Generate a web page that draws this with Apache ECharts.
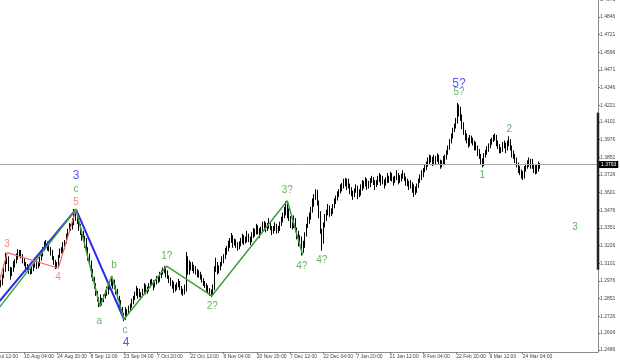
<!DOCTYPE html>
<html><head><meta charset="utf-8">
<script src="https://cdn.jsdelivr.net/npm/echarts@6/dist/echarts.min.js"></script>
<style>html,body{margin:0;padding:0;background:#fff}#c{width:620px;height:361px}</style>
</head><body><div id="c"></div>
<script>
// Half-day bars [open, close, low, high]; trading-day index of the first bar (day 0 = 10 Aug)
const firstDay = -8;
const halfDayBars = [
[1.2920,1.2940,1.2905,1.2950],[1.2940,1.2955,1.2930,1.2985],[1.2955,1.3010,1.2945,1.3020],[1.3010,1.3050,1.2995,1.3070],
[1.3050,1.3140,1.3040,1.3175],[1.3140,1.3120,1.3095,1.3160],[1.3120,1.3060,1.3045,1.3150],[1.3060,1.3030,1.2985,1.3075],
[1.3030,1.3050,1.3010,1.3070],[1.3050,1.3090,1.3040,1.3115],[1.3090,1.3110,1.3070,1.3130],[1.3110,1.3140,1.3100,1.3170],
[1.3140,1.3170,1.3125,1.3200],[1.3170,1.3180,1.3150,1.3195],[1.3180,1.3150,1.3135,1.3195],[1.3150,1.3120,1.3100,1.3165],
[1.3120,1.3095,1.3080,1.3135],[1.3095,1.3070,1.3040,1.3110],[1.3070,1.3080,1.3050,1.3095],[1.3080,1.3040,1.3025,1.3085],
[1.3040,1.3030,1.3020,1.3060],[1.3030,1.3055,1.3025,1.3080],[1.3055,1.3080,1.3045,1.3095],[1.3080,1.3100,1.3070,1.3120],
[1.3100,1.3075,1.3060,1.3130],[1.3075,1.3090,1.3065,1.3110],[1.3090,1.3130,1.3080,1.3145],[1.3130,1.3160,1.3120,1.3190],
[1.3160,1.3200,1.3150,1.3215],[1.3200,1.3240,1.3190,1.3255],[1.3240,1.3250,1.3220,1.3265],[1.3250,1.3225,1.3190,1.3255],
[1.3225,1.3200,1.3185,1.3240],[1.3200,1.3180,1.3155,1.3215],[1.3180,1.3140,1.3125,1.3195],[1.3140,1.3110,1.3090,1.3150],
[1.3110,1.3075,1.3060,1.3125],[1.3075,1.3090,1.3065,1.3110],[1.3090,1.3150,1.3075,1.3160],[1.3150,1.3190,1.3140,1.3205],
[1.3190,1.3180,1.3170,1.3215],[1.3180,1.3220,1.3175,1.3250],[1.3220,1.3250,1.3200,1.3265],[1.3250,1.3290,1.3240,1.3310],
[1.3290,1.3330,1.3280,1.3345],[1.3330,1.3360,1.3320,1.3385],[1.3360,1.3345,1.3330,1.3380],[1.3345,1.3380,1.3340,1.3420],
[1.3380,1.3460,1.3370,1.3485],[1.3460,1.3420,1.3400,1.3475],[1.3420,1.3400,1.3380,1.3445],[1.3400,1.3360,1.3330,1.3415],
[1.3360,1.3320,1.3300,1.3380],[1.3320,1.3300,1.3260,1.3345],[1.3300,1.3280,1.3260,1.3330],[1.3280,1.3250,1.3210,1.3295],
[1.3250,1.3200,1.3180,1.3280],[1.3200,1.3150,1.3120,1.3215],[1.3150,1.3110,1.3090,1.3170],[1.3110,1.3050,1.3000,1.3120],
[1.3050,1.2990,1.2975,1.3060],[1.2990,1.2950,1.2920,1.3005],[1.2950,1.2890,1.2870,1.2960],[1.2890,1.2850,1.2830,1.2905],
[1.2850,1.2800,1.2790,1.2860],[1.2800,1.2810,1.2795,1.2880],[1.2810,1.2840,1.2800,1.2855],[1.2840,1.2860,1.2825,1.2880],
[1.2860,1.2885,1.2850,1.2910],[1.2885,1.2900,1.2870,1.2935],[1.2900,1.2930,1.2880,1.2945],[1.2930,1.2950,1.2915,1.2975],
[1.2950,1.2985,1.2940,1.3005],[1.2985,1.2970,1.2920,1.2995],[1.2970,1.2930,1.2915,1.2985],[1.2930,1.2900,1.2880,1.2945],
[1.2900,1.2860,1.2845,1.2920],[1.2860,1.2820,1.2790,1.2870],[1.2820,1.2780,1.2765,1.2840],[1.2780,1.2740,1.2720,1.2790],
[1.2740,1.2710,1.2690,1.2750],[1.2710,1.2740,1.2700,1.2790],[1.2740,1.2755,1.2720,1.2775],[1.2755,1.2770,1.2740,1.2800],
[1.2770,1.2800,1.2760,1.2815],[1.2800,1.2820,1.2785,1.2850],[1.2820,1.2855,1.2810,1.2870],[1.2855,1.2880,1.2840,1.2900],
[1.2880,1.2920,1.2870,1.2940],[1.2920,1.2900,1.2850,1.2925],[1.2900,1.2880,1.2860,1.2920],[1.2880,1.2870,1.2840,1.2895],
[1.2870,1.2905,1.2860,1.2920],[1.2905,1.2930,1.2890,1.2960],[1.2930,1.2900,1.2880,1.2950],[1.2900,1.2915,1.2885,1.2935],
[1.2915,1.2945,1.2900,1.2960],[1.2945,1.2960,1.2930,1.2985],[1.2960,1.2970,1.2945,1.2990],[1.2970,1.2940,1.2910,1.2980],
[1.2940,1.2960,1.2930,1.2975],[1.2960,1.2985,1.2950,1.3010],[1.2985,1.2975,1.2960,1.3005],[1.2975,1.3010,1.2970,1.3040],
[1.3010,1.3035,1.2995,1.3050],[1.3035,1.3050,1.3020,1.3070],[1.3050,1.3060,1.3030,1.3080],[1.3060,1.3030,1.3000,1.3070],
[1.3030,1.3005,1.2990,1.3050],[1.3005,1.2980,1.2960,1.3015],[1.2980,1.2960,1.2940,1.3000],[1.2960,1.2950,1.2920,1.2980],
[1.2950,1.2915,1.2890,1.2970],[1.2915,1.2930,1.2900,1.2950],[1.2930,1.2950,1.2910,1.2965],[1.2950,1.2960,1.2930,1.2990],
[1.2960,1.2925,1.2910,1.2975],[1.2925,1.2900,1.2880,1.2940],[1.2900,1.2890,1.2870,1.2920],[1.2890,1.2920,1.2880,1.2950],
[1.2920,1.3130,1.2900,1.3180],[1.3130,1.3040,1.3020,1.3150],[1.3040,1.3090,1.3020,1.3120],[1.3090,1.3080,1.3050,1.3110],
[1.3080,1.3070,1.3045,1.3110],[1.3070,1.3060,1.3030,1.3090],[1.3060,1.3040,1.3020,1.3080],[1.3040,1.3030,1.3000,1.3060],
[1.3030,1.3020,1.3000,1.3050],[1.3020,1.3010,1.2985,1.3040],[1.3010,1.2980,1.2965,1.3020],[1.2980,1.2960,1.2940,1.2995],
[1.2960,1.2945,1.2925,1.2975],[1.2945,1.2930,1.2900,1.2960],[1.2930,1.2910,1.2890,1.2945],[1.2910,1.2900,1.2870,1.2925],
[1.2900,1.2880,1.2860,1.2915],[1.2880,1.2920,1.2870,1.2950],[1.2920,1.3060,1.2910,1.3080],[1.3060,1.3090,1.3040,1.3140],
[1.3090,1.3050,1.3020,1.3110],[1.3050,1.3060,1.3030,1.3085],[1.3060,1.3095,1.3050,1.3110],[1.3095,1.3120,1.3080,1.3150],
[1.3120,1.3140,1.3100,1.3165],[1.3140,1.3180,1.3130,1.3210],[1.3180,1.3200,1.3160,1.3225],[1.3200,1.3230,1.3185,1.3260],
[1.3230,1.3265,1.3210,1.3280],[1.3265,1.3280,1.3245,1.3315],[1.3280,1.3240,1.3210,1.3300],[1.3240,1.3250,1.3225,1.3275],
[1.3250,1.3235,1.3210,1.3270],[1.3235,1.3220,1.3190,1.3250],[1.3220,1.3235,1.3200,1.3255],[1.3235,1.3250,1.3220,1.3280],
[1.3250,1.3290,1.3240,1.3310],[1.3290,1.3270,1.3230,1.3300],[1.3270,1.3260,1.3240,1.3290],[1.3260,1.3290,1.3250,1.3330],
[1.3290,1.3275,1.3250,1.3310],[1.3275,1.3260,1.3230,1.3290],[1.3260,1.3300,1.3250,1.3320],[1.3300,1.3310,1.3280,1.3350],
[1.3310,1.3320,1.3290,1.3345],[1.3320,1.3340,1.3305,1.3380],[1.3340,1.3330,1.3305,1.3370],[1.3330,1.3310,1.3280,1.3350],
[1.3310,1.3345,1.3300,1.3360],[1.3345,1.3360,1.3325,1.3395],[1.3360,1.3380,1.3345,1.3400],[1.3380,1.3350,1.3320,1.3390],
[1.3350,1.3360,1.3330,1.3385],[1.3360,1.3380,1.3345,1.3420],[1.3380,1.3350,1.3335,1.3400],[1.3350,1.3330,1.3300,1.3365],
[1.3330,1.3345,1.3310,1.3365],[1.3345,1.3360,1.3330,1.3390],[1.3360,1.3330,1.3310,1.3380],[1.3330,1.3340,1.3315,1.3365],
[1.3340,1.3380,1.3330,1.3395],[1.3380,1.3400,1.3365,1.3430],[1.3400,1.3440,1.3390,1.3460],[1.3440,1.3450,1.3420,1.3500],
[1.3450,1.3510,1.3440,1.3540],[1.3510,1.3470,1.3420,1.3525],[1.3470,1.3420,1.3400,1.3490],[1.3420,1.3380,1.3350,1.3435],
[1.3380,1.3360,1.3340,1.3395],[1.3360,1.3400,1.3350,1.3440],[1.3400,1.3340,1.3320,1.3420],[1.3340,1.3300,1.3270,1.3355],
[1.3300,1.3250,1.3220,1.3330],[1.3250,1.3280,1.3235,1.3300],[1.3280,1.3190,1.3155,1.3290],[1.3190,1.3230,1.3175,1.3260],
[1.3230,1.3300,1.3210,1.3320],[1.3300,1.3360,1.3290,1.3380],[1.3360,1.3400,1.3350,1.3430],[1.3400,1.3420,1.3380,1.3460],
[1.3420,1.3480,1.3410,1.3500],[1.3480,1.3520,1.3460,1.3560],[1.3520,1.3570,1.3500,1.3590],[1.3570,1.3600,1.3550,1.3625],
[1.3600,1.3530,1.3510,1.3620],[1.3530,1.3450,1.3420,1.3545],[1.3450,1.3330,1.3310,1.3470],[1.3330,1.3260,1.3190,1.3345],
[1.3260,1.3370,1.3240,1.3390],[1.3370,1.3420,1.3355,1.3450],[1.3420,1.3460,1.3400,1.3480],[1.3460,1.3480,1.3440,1.3520],
[1.3480,1.3440,1.3430,1.3510],[1.3440,1.3460,1.3435,1.3490],[1.3460,1.3500,1.3450,1.3520],[1.3500,1.3530,1.3490,1.3560],
[1.3530,1.3565,1.3520,1.3580],[1.3565,1.3580,1.3545,1.3610],[1.3580,1.3610,1.3570,1.3625],[1.3610,1.3630,1.3595,1.3660],
[1.3630,1.3650,1.3610,1.3670],[1.3650,1.3660,1.3630,1.3700],[1.3660,1.3690,1.3645,1.3705],[1.3690,1.3680,1.3620,1.3700],
[1.3680,1.3650,1.3630,1.3700],[1.3650,1.3620,1.3590,1.3665],[1.3620,1.3595,1.3575,1.3640],[1.3595,1.3580,1.3550,1.3615],
[1.3580,1.3615,1.3570,1.3630],[1.3615,1.3630,1.3600,1.3660],[1.3630,1.3580,1.3555,1.3650],[1.3580,1.3600,1.3570,1.3625],
[1.3600,1.3640,1.3580,1.3660],[1.3640,1.3650,1.3615,1.3690],[1.3650,1.3665,1.3630,1.3685],[1.3665,1.3680,1.3645,1.3710],
[1.3680,1.3645,1.3620,1.3700],[1.3645,1.3660,1.3630,1.3685],[1.3660,1.3690,1.3640,1.3705],[1.3690,1.3700,1.3670,1.3720],
[1.3700,1.3675,1.3655,1.3710],[1.3675,1.3660,1.3620,1.3690],[1.3660,1.3670,1.3640,1.3690],[1.3670,1.3690,1.3655,1.3720],
[1.3690,1.3720,1.3675,1.3740],[1.3720,1.3700,1.3650,1.3730],[1.3700,1.3675,1.3660,1.3720],[1.3675,1.3660,1.3630,1.3695],
[1.3660,1.3690,1.3650,1.3710],[1.3690,1.3700,1.3670,1.3740],[1.3700,1.3690,1.3670,1.3720],[1.3690,1.3720,1.3685,1.3750],
[1.3720,1.3700,1.3680,1.3740],[1.3700,1.3680,1.3650,1.3715],[1.3680,1.3705,1.3670,1.3720],[1.3705,1.3720,1.3690,1.3760],
[1.3720,1.3690,1.3660,1.3740],[1.3690,1.3700,1.3670,1.3725],[1.3700,1.3720,1.3680,1.3735],[1.3720,1.3730,1.3700,1.3760],
[1.3730,1.3700,1.3685,1.3740],[1.3700,1.3680,1.3650,1.3715],[1.3680,1.3670,1.3645,1.3700],[1.3670,1.3660,1.3620,1.3685],
[1.3660,1.3665,1.3630,1.3690],[1.3665,1.3640,1.3600,1.3675],[1.3640,1.3600,1.3570,1.3660],[1.3600,1.3620,1.3585,1.3645],
[1.3620,1.3650,1.3600,1.3665],[1.3650,1.3680,1.3635,1.3700],[1.3680,1.3710,1.3670,1.3730],[1.3710,1.3720,1.3690,1.3760],
[1.3720,1.3760,1.3710,1.3775],[1.3760,1.3780,1.3745,1.3800],[1.3780,1.3800,1.3760,1.3820],[1.3800,1.3820,1.3785,1.3850],
[1.3820,1.3850,1.3800,1.3870],[1.3850,1.3840,1.3815,1.3865],[1.3840,1.3810,1.3790,1.3855],[1.3810,1.3820,1.3795,1.3870],
[1.3820,1.3845,1.3800,1.3860],[1.3845,1.3850,1.3820,1.3880],[1.3850,1.3820,1.3800,1.3870],[1.3820,1.3800,1.3770,1.3835],
[1.3800,1.3810,1.3780,1.3830],[1.3810,1.3830,1.3795,1.3860],[1.3830,1.3850,1.3800,1.3870],[1.3850,1.3880,1.3835,1.3900],
[1.3880,1.3920,1.3870,1.3935],[1.3920,1.3960,1.3905,1.3980],[1.3960,1.4000,1.3950,1.4020],[1.4000,1.4040,1.3985,1.4060],
[1.4040,1.4070,1.4030,1.4090],[1.4070,1.4100,1.4055,1.4130],[1.4100,1.4200,1.4090,1.4236],[1.4200,1.4170,1.4140,1.4225],
[1.4170,1.4140,1.4110,1.4210],[1.4140,1.4080,1.4050,1.4155],[1.4080,1.4030,1.4010,1.4100],[1.4030,1.4000,1.3970,1.4045],
[1.4000,1.3970,1.3950,1.4020],[1.3970,1.3960,1.3920,1.3990],[1.3960,1.3990,1.3930,1.4010],[1.3990,1.3980,1.3950,1.4005],
[1.3980,1.3950,1.3935,1.3990],[1.3950,1.3940,1.3900,1.3970],[1.3940,1.3920,1.3900,1.3960],[1.3920,1.3900,1.3860,1.3935],
[1.3900,1.3860,1.3840,1.3910],[1.3860,1.3830,1.3800,1.3875],[1.3830,1.3800,1.3780,1.3845],[1.3800,1.3860,1.3790,1.3880],
[1.3860,1.3885,1.3850,1.3905],[1.3885,1.3900,1.3870,1.3930],[1.3900,1.3930,1.3890,1.3950],[1.3930,1.3950,1.3915,1.3980],
[1.3950,1.3975,1.3940,1.3990],[1.3975,1.3990,1.3960,1.4010],[1.3990,1.4000,1.3970,1.4020],[1.4000,1.3960,1.3930,1.4010],
[1.3960,1.3930,1.3910,1.3970],[1.3930,1.3910,1.3880,1.3945],[1.3910,1.3900,1.3880,1.3925],[1.3900,1.3930,1.3890,1.3960],
[1.3930,1.3945,1.3915,1.3970],[1.3945,1.3920,1.3880,1.3955],[1.3920,1.3950,1.3900,1.3970],[1.3950,1.3960,1.3930,1.4000],
[1.3960,1.3920,1.3900,1.3980],[1.3920,1.3880,1.3850,1.3935],[1.3880,1.3860,1.3840,1.3900],[1.3860,1.3840,1.3810,1.3875],
[1.3840,1.3800,1.3780,1.3850],[1.3800,1.3770,1.3740,1.3815],[1.3770,1.3750,1.3725,1.3790],[1.3750,1.3740,1.3700,1.3765],
[1.3740,1.3710,1.3690,1.3755],[1.3710,1.3770,1.3700,1.3790],[1.3770,1.3790,1.3750,1.3805],[1.3790,1.3800,1.3770,1.3830],
[1.3800,1.3830,1.3785,1.3850],[1.3830,1.3820,1.3770,1.3840],[1.3820,1.3790,1.3770,1.3840],[1.3790,1.3780,1.3740,1.3805],
[1.3780,1.3750,1.3730,1.3795],[1.3750,1.3760,1.3735,1.3800],[1.3760,1.3800,1.3750,1.3820],[1.3800,1.3793,1.3770,1.3810]
];
const xTickLabels = ["24 Jul 12:00","10 Aug 04:00","24 Aug 20:00","8 Sep 12:00","23 Sep 04:00","7 Oct 20:00","22 Oct 12:00","6 Nov 04:00","20 Nov 20:00","7 Dec 12:00","22 Dec 04:00","7 Jan 20:00","21 Jan 12:00","8 Feb 04:00","22 Feb 20:00","9 Mar 12:00","24 Mar 04:00"];
const yTickLabels = ["1.4971","1.4846","1.4721","1.4596","1.4471","1.4346","1.4221","1.4101","1.3976","1.3851","1.3726","1.3601","1.3476","1.3351","1.3226","1.3101","1.2976","1.2851","1.2726","1.2606","1.2486"];
const lastPrice = 1.3793;
const axisRange = [1.3055, 1.4168];
// wave lines [day, price]
const blueWave = [[-9.65,1.2793],[16.34,1.3483],[31.74,1.2704]];
const greenWave = [[-9.65,1.2748],[16.34,1.3483],[24.04,1.2793],[27.8,1.3010],[31.74,1.2704],[45.44,1.3081],[59.88,1.2869],[84.13,1.3544],[89.07,1.3159]];
const redWave = [[-8.5,1.2955],[-5.70,1.3176],[10.66,1.3065],[16.34,1.3483]];
// wave labels [day, price, text]
const blueLabels = [[16.34,1.3719,"3"],[32.38,1.2536,"4"],[139.2,1.4376,"5?"]];
const greenLabels = [[16.34,1.3627,"c"],[23.82,1.2687,"a"],[28.53,1.3088,"b"],[32.06,1.2628,"c"],[45.44,1.3152,"1?"],[60.07,1.2793,"2?"],[84.13,1.3615,"3?"],[88.75,1.3081,"4?"],[95.17,1.3124,"4?"],[139.2,1.4312,"5?"],[146.69,1.3721,"1"],[155.36,1.4052,"2"],[176.43,1.3358,"3"]];
const redLabels = [[-5.79,1.3237,"3"],[10.57,1.3003,"4"],[16.34,1.3535,"5"]];

const X_MIN = -11.89, X_MAX = 183.81;
const BARS_PER_LABEL_DAYS = 64 / 6;
const FONT = '"Liberation Sans", Arial, sans-serif';
const xTickPos = xTickLabels.map((_, k) => -11 + k * BARS_PER_LABEL_DAYS);
const yTickVals = yTickLabels.map(Number);
const BLUE = '#2b2bf2', GREEN = '#3f9f3f', RED = '#f26868';

function labelSeries(arr, color, size) {
  return {
    type: 'scatter', symbolSize: 1, z: 10, silent: true,
    itemStyle: { color: 'rgba(0,0,0,0)' },
    label: { show: true, position: 'inside', formatter: p => p.name, color: color, fontSize: size, fontFamily: FONT },
    data: arr.map(a => ({ name: a[2], value: [a[0], a[1]] }))
  };
}
function waveSeries(arr, color, w) {
  return { type: 'line', data: arr, showSymbol: false, symbol: 'none', z: 5, silent: true,
    lineStyle: { color: color, width: w } };
}

const chart = echarts.init(document.getElementById('c'), null, { renderer: 'canvas' });
chart.setOption({
  animation: false,
  backgroundColor: '#ffffff',
  grid: { left: -12, right: 22, top: -2, bottom: 9, containLabel: false, outerBoundsMode: 'none' },
  xAxis: {
    type: 'value', min: X_MIN, max: X_MAX,
    splitLine: { show: false },
    axisLine: { show: true, onZero: false, lineStyle: { color: '#8a8a8a', width: 1 } },
    axisTick: { show: true, customValues: xTickPos, length: 2, lineStyle: { color: '#777' } },
    axisLabel: { customValues: xTickPos, fontSize: 5, color: '#444', fontFamily: FONT, align: 'left', margin: 2,
      formatter: v => xTickLabels[Math.round((v + 11) / BARS_PER_LABEL_DAYS)] }
  },
  yAxis: {
    type: 'value', position: 'right', min: 1.2472, max: 1.4980,
    splitLine: { show: false },
    axisLine: { show: true, onZero: false, lineStyle: { color: '#8a8a8a', width: 1 } },
    axisTick: { show: true, customValues: yTickVals, length: 2, lineStyle: { color: '#777' } },
    axisLabel: { customValues: yTickVals, fontSize: 5, color: '#444', fontFamily: FONT, margin: 2,
      formatter: v => yTickLabels[yTickVals.indexOf(v)] }
  },
  series: [
    {
      type: 'candlestick',
      data: halfDayBars.map((v, i) => [firstDay - 0.25 + i * 0.5, v[0], v[1], v[2], v[3]]),
      barWidth: 0.8,
      itemStyle: { color: '#000', color0: '#000', borderColor: '#000', borderColor0: '#000', borderWidth: 1 },
      markLine: {
        silent: true, symbol: 'none',
        lineStyle: { color: '#a8a8a8', width: 1, type: 'solid' },
        label: { show: true, position: 'end', distance: 1, formatter: String(lastPrice), color: '#fff',
          backgroundColor: '#000', fontSize: 5, fontFamily: FONT, padding: [1, 2] },
        data: [{ yAxis: lastPrice }]
      }
    },
    waveSeries(blueWave, BLUE, 2),
    waveSeries(greenWave, GREEN, 1.5),
    waveSeries(redWave, RED, 1.2),
    { type: 'line', clip: false, showSymbol: false, symbol: 'none', silent: true, z: 6,
      data: axisRange.map(p => [X_MAX, p]), lineStyle: { color: '#222', width: 2.5 } },
    labelSeries(blueLabels, BLUE, 12),
    labelSeries(greenLabels, GREEN, 10),
    labelSeries(redLabels, RED, 10)
  ]
});
</script></body></html>
